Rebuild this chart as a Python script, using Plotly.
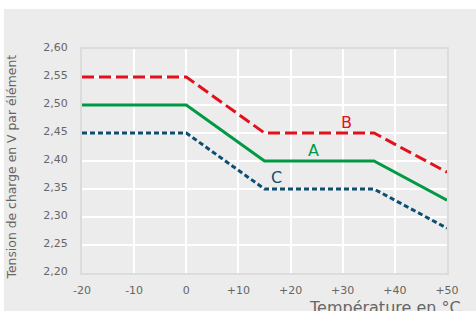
import plotly.graph_objects as go

# Data
temps = [-20, 0, 15, 36, 50]
curve_a = [2.50, 2.50, 2.40, 2.40, 2.33]
curve_b = [2.55, 2.55, 2.45, 2.45, 2.38]
curve_c = [2.45, 2.45, 2.35, 2.35, 2.28]
series_names = ["A", "B", "C"]
x_tickvals = [-20, -10, 0, 10, 20, 30, 40, 50]
x_ticktext = ["-20", "-10", "0", "+10", "+20", "+30", "+40", "+50"]
y_tickvals = [2.20, 2.25, 2.30, 2.35, 2.40, 2.45, 2.50, 2.55, 2.60]

RED = "#e3101b"
GREEN = "#009a44"
BLUE = "#0c4f72"
FONT = "DejaVu Sans"
GRAY_TXT = "#666666"
PANEL = "#dcdcdc"
PAGE = "#ececec"

fig = go.Figure()
fig.add_trace(go.Scatter(x=temps, y=curve_b, mode="lines", name="B",
                         line=dict(color=RED, width=3, dash="12px,5px")))
fig.add_trace(go.Scatter(x=temps, y=curve_a, mode="lines", name="A",
                         line=dict(color=GREEN, width=3)))
fig.add_trace(go.Scatter(x=temps, y=curve_c, mode="lines", name="C",
                         line=dict(color=BLUE, width=3, dash="5px,3px")))

# page background panel
fig.add_shape(type="rect", xref="paper", yref="paper", x0=-0.214, x1=1.2, y0=-0.3, y1=1.1786,
              fillcolor=PAGE, line=dict(width=0), layer="below")

# curve labels
fig.add_annotation(x=30.8, y=2.4696, text="B", showarrow=False, font=dict(family=FONT, size=16, color=RED))
fig.add_annotation(x=24.4, y=2.4196, text="A", showarrow=False, font=dict(family=FONT, size=16, color=GREEN))
fig.add_annotation(x=17.3, y=2.3714, text="C", showarrow=False, font=dict(family=FONT, size=16, color=BLUE))

# x axis title (bottom right, partly cut as in the original)
fig.add_annotation(xref="paper", yref="paper", x=1.044, y=-0.156, xanchor="right", yanchor="middle",
                   text="Température en °C", showarrow=False,
                   font=dict(family=FONT, size=16, color=GRAY_TXT))
# y axis title
fig.add_annotation(xref="paper", yref="paper", x=-0.192, y=0.475, xanchor="center", yanchor="middle",
                   textangle=-90, text="Tension de charge en V par élément", showarrow=False,
                   font=dict(family=FONT, size=12.4, color=GRAY_TXT))

fig.update_layout(
    width=476, height=311,
    margin=dict(l=82, r=29, t=49, b=38),
    paper_bgcolor="white",
    plot_bgcolor=PANEL,
    separators=", ",
    showlegend=False,
    font=dict(family=FONT, size=11, color=GRAY_TXT),
    xaxis=dict(range=[-20, 50], tickvals=x_tickvals, ticktext=x_ticktext,
               showgrid=True, gridcolor="white", gridwidth=1.5, zeroline=False,
               showline=True, linecolor=PANEL, linewidth=2, mirror=True,
               ticks="", ticklabelstandoff=6,
               tickfont=dict(size=11, color=GRAY_TXT)),
    yaxis=dict(range=[2.20, 2.60], tickvals=y_tickvals, tickformat=".2f",
               showgrid=True, gridcolor="white", gridwidth=1.5, zeroline=False,
               showline=True, linecolor=PANEL, linewidth=2, mirror=True,
               ticks="", ticklabelstandoff=10, ticklabelshift=-2,
               tickfont=dict(size=11, color=GRAY_TXT)),
)

fig.write_html("out.html", config={"displayModeBar": False},
               post_script="document.body.style.margin='0';document.body.style.overflow='hidden';")
